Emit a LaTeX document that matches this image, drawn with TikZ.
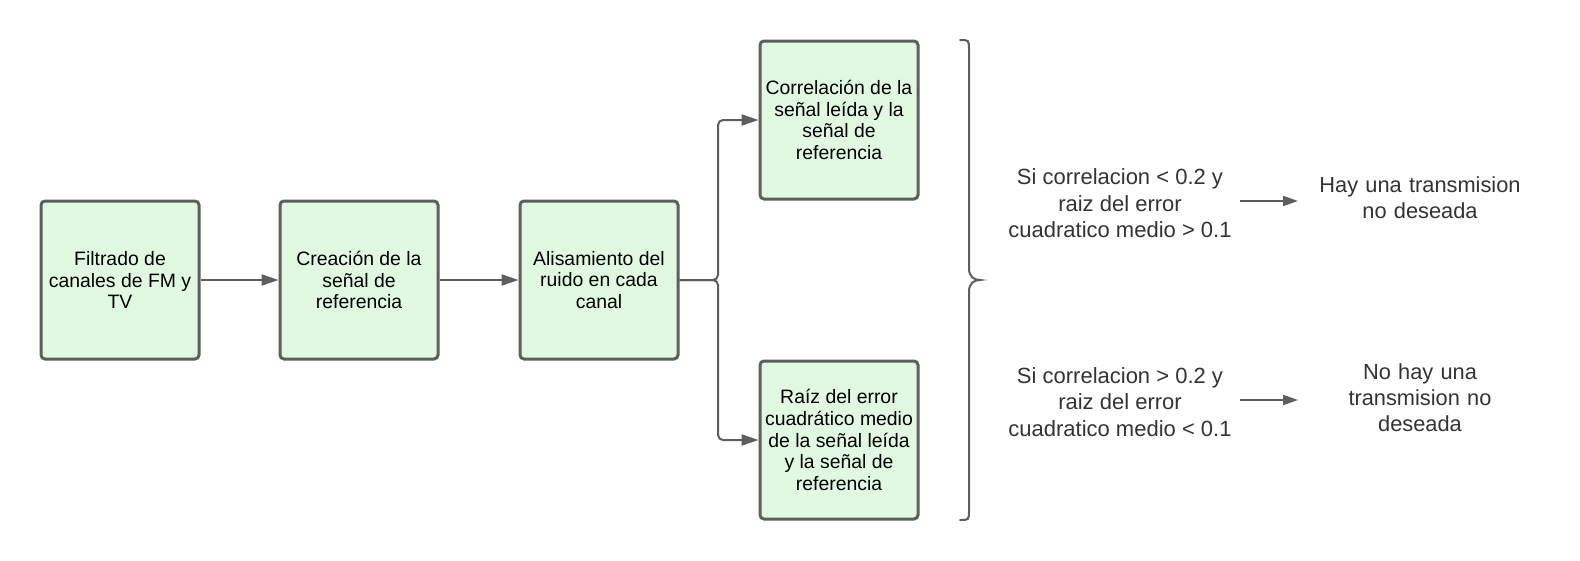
\documentclass[tikz,border=0pt]{standalone}
\usepackage{fontspec}
\setmainfont{Liberation Sans}
\usetikzlibrary{arrows.meta}
\definecolor{bordergray}{RGB}{94,94,94}
\definecolor{boxgreen}{RGB}{225,249,225}
\definecolor{txtgray}{RGB}{51,51,51}
\tikzset{
  procbox/.style={draw=bordergray, line width=3pt, fill=boxgreen, rounded corners=4pt,
    minimum width=158pt, minimum height=158pt, align=center, inner sep=0pt,
    font=\fontsize{19.4}{21.6}\selectfont},
  arr/.style={draw=bordergray, line width=2pt, -{Triangle[length=17pt,width=11pt]}},
  smallarr/.style={arr, -{Triangle[length=15pt,width=10pt]}},
  condtxt/.style={align=center, inner sep=0pt, outer xsep=8.5pt,
    text=txtgray, font=\fontsize{22}{26.5}\selectfont},
  restxt/.style={text width=216pt, align=center, inner sep=0pt, outer xsep=14pt,
    text=txtgray, font=\fontsize{21.8}{26}\selectfont},
}
\begin{document}
\begin{tikzpicture}[x=1pt, y=-1pt]
\useasboundingbox (0,0) rectangle (1580,560);
\node[procbox] (b1) at (120,280) {Filtrado de\\canales de FM y\\TV};
\node[procbox] (b2) at (359,280) {Creación de la\\señal de\\referencia};
\node[procbox] (b3) at (599,280) {Alisamiento del\\ruido en cada\\canal};
\node[procbox] (b4) at (839,120) {Correlación de la\\señal leída y la\\señal de\\referencia};
\node[procbox] (b5) at (839,440) {Raíz del error\\cuadrático medio\\de la señal leída\\y la señal de\\referencia};
\coordinate (j) at (718,280);
\draw[arr] (b1.east) -- (b2.west);
\draw[arr] (b2.east) -- (b3.west);
\draw[arr, rounded corners=5pt] (b3.east) -- (j) |- (b4.west);
\draw[arr, rounded corners=5pt] (b3.east) -- (j) |- (b5.west);
% brace
\draw[bordergray, line width=2pt, line cap=round]
  (960,40) .. controls (969,40) .. (969,50) -- (969,268)
  .. controls (969,277) and (974,280) .. (980,280)
  .. controls (974,280) and (969,283) .. (969,292) -- (969,510)
  .. controls (969,520) .. (960,520);
\node[condtxt] (c1) at (1120,203.5) {Si correlacion < 0.2 y\\raiz del error\\cuadratico medio > 0.1};
\node[condtxt] (c2) at (1120,402) {Si correlacion > 0.2 y\\raiz del error\\cuadratico medio < 0.1};
\node[restxt] (r1) at (1420,197.5) {Hay una transmision\\no deseada};
\node[restxt] (r2) at (1420,398) {No hay una\\transmision no\\deseada};
\draw[smallarr] ([yshift=2.5pt]c1.east) -- ([yshift=2.5pt]c1.east -| r1.west);
\draw[smallarr] ([yshift=2pt]c2.east) -- ([yshift=2pt]c2.east -| r2.west);
\end{tikzpicture}
\end{document}
